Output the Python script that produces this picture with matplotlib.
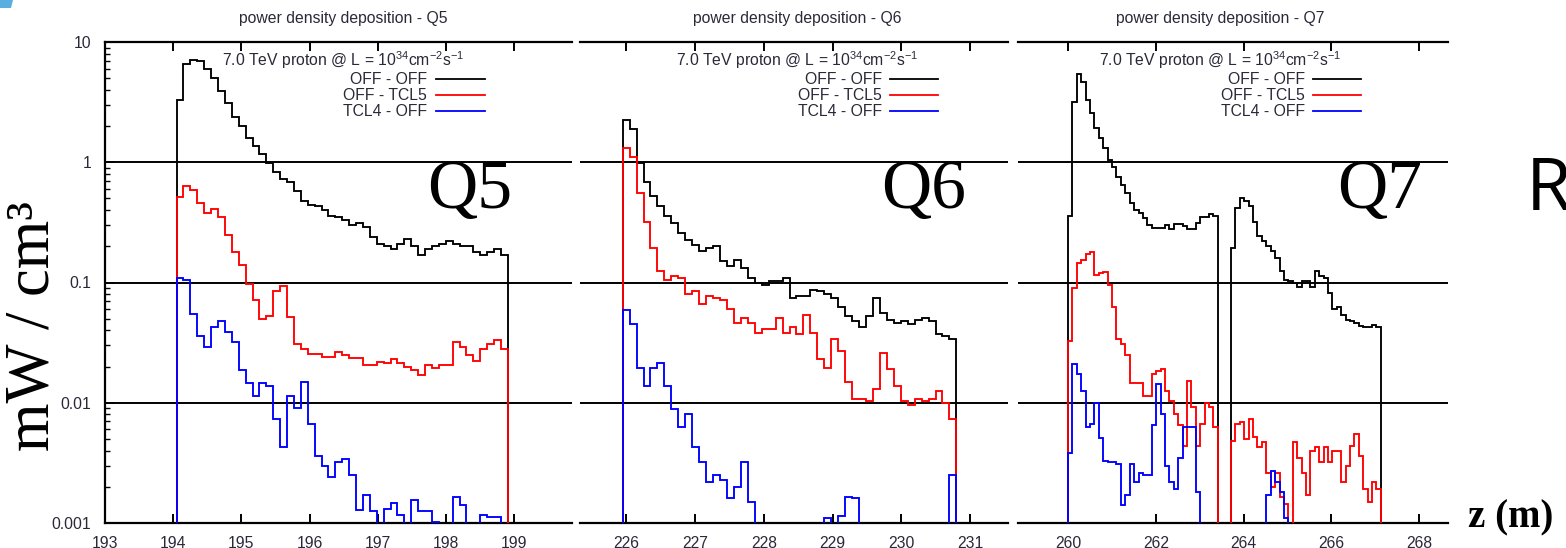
import numpy as np
import matplotlib
matplotlib.use("Agg")
import matplotlib.pyplot as plt
from matplotlib.lines import Line2D
from matplotlib.patches import Polygon

plt.rcParams['font.family'] = ['Liberation Sans', 'DejaVu Sans']
plt.rcParams['mathtext.fontset'] = 'custom'
plt.rcParams['mathtext.rm'] = 'Liberation Sans'
plt.rcParams['mathtext.it'] = 'Liberation Sans:italic'
plt.rcParams['mathtext.bf'] = 'Liberation Sans:bold'

# ---------------- data ----------------
series_names = ["OFF - OFF", "OFF - TCL5", "TCL4 - OFF"]
panel_titles = ["power density deposition - Q5",
                "power density deposition - Q6",
                "power density deposition - Q7"]
magnet_labels = ["Q5", "Q6", "Q7"]
header = r"7.0 TeV proton @ L = 10$^{34}$cm$^{-2}$s$^{-1}$"

# z ranges of the histograms (m) and number of bins
q5_z = (194.05, 198.91, 48)
q6_z = (225.95, 230.80, 48)
q7_z = (260.00, 267.13, 71)

q5_off_off = [3.3, 6.5, 7.1, 7.0, 6.0, 5.0, 3.9, 3.1, 2.4, 2.0,
              1.6, 1.37, 1.17, 0.98, 0.83, 0.73, 0.69, 0.58, 0.48, 0.44,
              0.43, 0.40, 0.36, 0.35, 0.33, 0.30, 0.31, 0.29, 0.24, 0.21,
              0.20, 0.19, 0.21, 0.23, 0.20, 0.17, 0.19, 0.20, 0.21, 0.22,
              0.21, 0.20, 0.20, 0.18, 0.17, 0.18, 0.19, 0.17]
q5_off_tcl5 = [0.515, 0.63, 0.585, 0.46, 0.376, 0.41, 0.35, 0.25, 0.18, 0.14,
               0.097, 0.071, 0.050, 0.053, 0.085, 0.094, 0.052, 0.031, 0.028, 0.0255,
               0.0255, 0.0242, 0.0242, 0.0266, 0.025, 0.0237, 0.0237, 0.0207, 0.0207, 0.022,
               0.0213, 0.023, 0.0213, 0.020, 0.0188, 0.0171, 0.0207, 0.0195, 0.0207, 0.0207,
               0.0317, 0.029, 0.025, 0.0224, 0.028, 0.031, 0.033, 0.028]
q5_tcl4_off = [0.11, 0.105, 0.055, 0.036, 0.029, 0.043, 0.048, 0.039, 0.032, 0.0187,
               0.0146, 0.0114, 0.0146, 0.0138, 0.0073, 0.0043, 0.0114, 0.0091, 0.015, 0.0066,
               0.0036, 0.003, 0.0024, 0.0032, 0.0034, 0.0025, 0.00129, 0.0017, 0.00125, 0,
               0.00132, 0.00148, 0.00117, 0, 0.00155, 0.00125, 0.00125, 0.00101, 0, 0,
               0.00166, 0.0014, 0, 0, 0.00117, 0.00112, 0.00112, 0]

q6_off_off = [2.24, 1.89, 0.98, 0.69, 0.52, 0.43, 0.355, 0.31, 0.258, 0.227,
              0.206, 0.182, 0.194, 0.2, 0.15, 0.136, 0.155, 0.132, 0.11, 0.1,
              0.096, 0.102, 0.102, 0.11, 0.075, 0.077, 0.077, 0.087, 0.085, 0.08,
              0.075, 0.062, 0.053, 0.048, 0.043, 0.053, 0.075, 0.056, 0.049, 0.046,
              0.048, 0.045, 0.049, 0.051, 0.048, 0.037, 0.036, 0.034]
q6_off_tcl5 = [1.32, 1.11, 0.55, 0.32, 0.194, 0.124, 0.104, 0.113, 0.11, 0.08,
               0.085, 0.066, 0.077, 0.075, 0.072, 0.06, 0.046, 0.051, 0.046, 0.038,
               0.041, 0.041, 0.051, 0.038, 0.043, 0.037, 0.054, 0.038, 0.023, 0.0196,
               0.034, 0.027, 0.015, 0.0107, 0.0107, 0.0104, 0.013, 0.026, 0.019, 0.0138,
               0.0104, 0.0095, 0.0107, 0.0104, 0.0107, 0.0126, 0.01, 0.0073]
q6_tcl4_off = [0.059, 0.045, 0.0196, 0.0138, 0.0196, 0.0216, 0.0138, 0.0089, 0.0063, 0.0081,
               0.0043, 0.0032, 0.0022, 0.0025, 0.0023, 0.0016, 0.002, 0.0032, 0.0015, 0,
               0, 0, 0, 0, 0, 0, 0, 0, 0, 0.00111,
               0, 0.00115, 0.00166, 0.0016, 0, 0, 0, 0, 0, 0,
               0, 0, 0, 0, 0, 0, 0, 0.0025]

q7_off_off = [0.354, 3.18, 5.46, 4.66, 3.29, 2.55, 1.91, 1.58, 1.31, 1.05,
              0.92, 0.76, 0.65, 0.553, 0.457, 0.403, 0.378, 0.343, 0.303, 0.284,
              0.284, 0.284, 0.303, 0.28, 0.306, 0.306, 0.293, 0.28, 0.28, 0.312,
              0.348, 0.348, 0.371, 0.354,
              0, 0, 0,
              0.194, 0.416, 0.50, 0.472, 0.43, 0.32, 0.242, 0.22, 0.2, 0.182,
              0.16, 0.124, 0.104, 0.103, 0.1, 0.092, 0.103, 0.103, 0.092, 0.124,
              0.113, 0.109, 0.082, 0.06, 0.062, 0.054, 0.049, 0.048, 0.046, 0.0436,
              0.043, 0.043, 0.0443, 0.043]
q7_off_tcl5 = [0.0327, 0.090, 0.146, 0.155, 0.171, 0.18, 0.116, 0.12, 0.122, 0.096,
               0.062, 0.034, 0.031, 0.025, 0.0145, 0.0145, 0.0145, 0.0114, 0.0114, 0.0173,
               0.0184, 0.019, 0.0126, 0.0104, 0.0081, 0.0065, 0.0044, 0.0152, 0.0092, 0.0044,
               0.0066, 0.01, 0.0092, 0.0063,
               0, 0, 0,
               0.0048, 0.0067, 0.0069, 0.005, 0.0073, 0.0052, 0.0043, 0.0047, 0.0026, 0.002,
               0.0026, 0.00165, 0.00145, 0, 0.0047, 0.0035, 0.0026, 0.0017, 0.004, 0.0043,
               0.0032, 0.0043, 0.0032, 0.004, 0.004, 0.0022, 0.003, 0.0044, 0.0055, 0.0036,
               0.0019, 0.0015, 0.0022, 0.0019]
q7_tcl4_off = [0.0038, 0.021, 0.0173, 0.0126, 0.0063, 0.0066, 0.01, 0.0051, 0.0033, 0.0032,
               0.0032, 0.0031, 0.0014, 0.0017, 0.0031, 0.0022, 0.0026, 0.0025, 0.0025, 0.0065,
               0.0143, 0.0081, 0.003, 0.0022, 0.0019, 0.0035, 0.0063, 0.0063, 0.0063, 0.0018,
               0, 0, 0, 0,
               0, 0, 0,
               0, 0, 0, 0, 0, 0, 0, 0, 0.0017, 0.0027,
               0.0022, 0.0018, 0.0011, 0, 0, 0, 0, 0, 0, 0,
               0, 0, 0, 0, 0, 0, 0, 0, 0, 0,
               0, 0, 0, 0]

x_ticks_q5 = [193, 194, 195, 196, 197, 198, 199]
x_ticks_q6 = [226, 227, 228, 229, 230, 231]
x_ticks_q7 = [260, 262, 264, 266, 268]
y_ticks = [0.001, 0.01, 0.1, 1, 10]
y_tick_labels = ["0.001", "0.01", "0.1", "1", "10"]

# ---------------- layout ----------------
W, H = 1566, 548
fig = plt.figure(figsize=(W / 100, H / 100), dpi=100)


def fx(x):
    return x / W


def fy(y):
    return 1 - y / H


def box(l, r, t, b):
    return [fx(l), fy(b), (r - l) / W, (b - t) / H]


TOP, BOT = 42, 523
panels = [
    dict(rect=box(105, 572, TOP, BOT), xlim=(193, 199.85), z=q5_z,
         data=[q5_off_off, q5_off_tcl5, q5_tcl4_off], xt=x_ticks_q5,
         title_x=343, leg_right=427, line_x=(436, 485), qx=427),
    dict(rect=box(580, 1008, TOP, BOT), xlim=(225.33, 231.55), z=q6_z,
         data=[q6_off_off, q6_off_tcl5, q6_tcl4_off], xt=x_ticks_q6,
         title_x=797, leg_right=882, line_x=(890, 938), qx=881),
    dict(rect=box(1018, 1448, TOP, BOT), xlim=(258.86, 268.66), z=q7_z,
         data=[q7_off_off, q7_off_tcl5, q7_tcl4_off], xt=x_ticks_q7,
         title_x=1220, leg_right=1305, line_x=(1313, 1361), qx=1337),
]
colors = ["black", "#ff0000", "#0000ff"]
small_c = "#2b2838"
FS = 11.3

for i, p in enumerate(panels):
    ax = fig.add_axes(p["rect"])
    ax.set_yscale("log")
    ax.set_ylim(1e-3, 10)
    ax.set_xlim(*p["xlim"])
    z0, z1, n = p["z"]
    edges = np.linspace(z0, z1, n + 1)
    for vals, c in zip(p["data"], colors):
        v = np.maximum(np.asarray(vals, dtype=float), 1e-7)
        ax.stairs(v, edges, baseline=1e-7, color=c, lw=1.35, zorder=3)
    ax.set_yticks(y_ticks)
    ax.yaxis.grid(True, which="major", color="black", lw=1.4, zorder=1)
    ax.set_axisbelow(True)
    ax.set_xticks(p["xt"])
    ax.set_xticklabels([str(t) for t in p["xt"]], fontsize=FS, color=small_c)
    ax.tick_params(axis="x", which="major", direction="in", top=True, bottom=True,
                   length=6.5, width=1.4, pad=9)
    ax.tick_params(axis="x", which="minor", bottom=False, top=False)
    for s in ["top", "bottom"]:
        ax.spines[s].set_linewidth(1.6)
    ax.spines["right"].set_visible(False)
    if i == 0:
        ax.set_yticklabels(y_tick_labels, fontsize=FS, color=small_c)
        ax.tick_params(axis="y", which="major", direction="in", length=6.5, width=1.4, pad=10)
        ax.tick_params(axis="y", which="minor", direction="in", length=3.5, width=1.0)
        ax.spines["left"].set_linewidth(1.6)
    else:
        ax.spines["left"].set_visible(False)
        ax.tick_params(axis="y", which="both", left=False, labelleft=False)

    # title and key
    fig.text(fx(p["title_x"]), fy(18), panel_titles[i], ha="center", va="center",
             fontsize=FS, color=small_c)
    fig.text(fx(p["title_x"]), fy(60), header, ha="center", va="center",
             fontsize=FS, color=small_c)
    for k, (name, c) in enumerate(zip(series_names, colors)):
        yy = 79 + 16 * k
        fig.text(fx(p["leg_right"]), fy(yy), name, ha="right", va="center",
                 fontsize=FS, color=small_c)
        fig.add_artist(Line2D([fx(p["line_x"][0]), fx(p["line_x"][1])], [fy(yy), fy(yy)],
                              transform=fig.transFigure, color=c, lw=1.3))
    fig.text(fx(p["qx"]), fy(208), magnet_labels[i], ha="left", va="baseline",
             fontsize=50, family="Liberation Serif", color="black")

# y label, axis name and slide decorations
fig.text(fx(34), fy(326), "mW / cm³", rotation=90, ha="center", va="center",
         fontsize=45, family="Liberation Serif", color="black")
fig.text(fx(1468), fy(527), "z (m)", ha="left", va="baseline", fontsize=28,
         family="Liberation Serif", fontweight="bold", color="black")
fig.text(fx(1526), fy(210), "R", ha="left", va="baseline", fontsize=53,
         family="Open Sans", color="black")
fig.add_artist(Polygon([[fx(0), fy(0)], [fx(13), fy(0)], [fx(11), fy(8)], [fx(0), fy(8)]],
                       closed=True, transform=fig.transFigure, color="#5aaee0", lw=0))

fig.savefig("out.png", dpi=100)
